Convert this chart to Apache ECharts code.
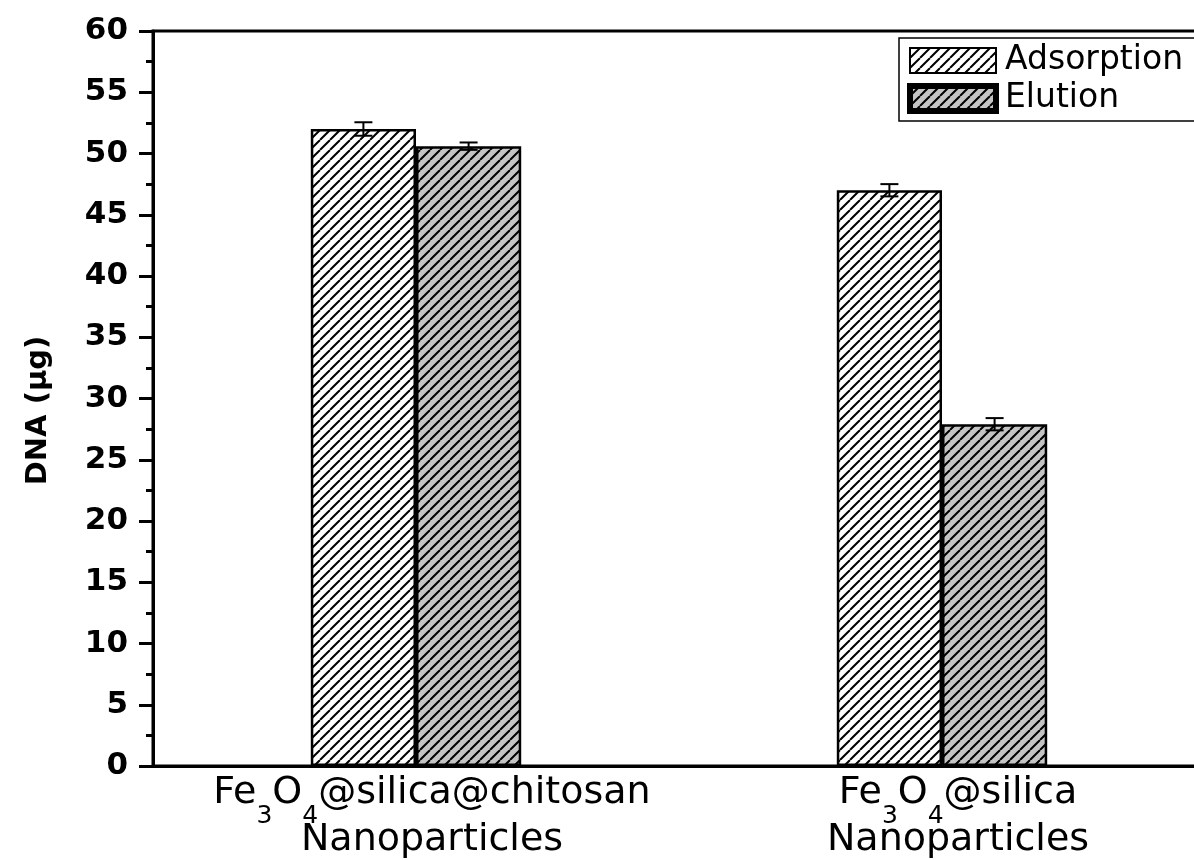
<!DOCTYPE html>
<html>
<head>
<meta charset="utf-8">
<script src="https://cdn.jsdelivr.net/npm/echarts@6/dist/echarts.min.js"></script>
<style>
html,body{margin:0;padding:0;background:#fff;}
#chart{width:1194px;height:860px;}
</style>
</head>
<body>
<div id="chart"></div>
<script>
// ---- data ----
const categories = ['Fe3O4@silica@chitosan\nNanoparticles', 'Fe3O4@silica\nNanoparticles'];
const seriesNames = ['Adsorption', 'Elution'];
const adsorption = [52.0, 47.0];
const adsorptionErr = [0.55, 0.5];
const elution = [50.6, 27.9];
const elutionErr = [0.3, 0.5];
const yTicks = [0, 60, 5];

// ---- hatch patterns ----
function hatch(bg) {
  const w = 10, h = 10;
  const c = document.createElement('canvas');
  c.width = w; c.height = h;
  const ctx = c.getContext('2d');
  ctx.fillStyle = bg; ctx.fillRect(0, 0, w, h);
  ctx.strokeStyle = '#000'; ctx.lineWidth = 2;
  ctx.beginPath();
  [-w, 0, w].forEach(function (dx) { ctx.moveTo(dx, h); ctx.lineTo(dx + w, 0); });
  ctx.stroke();
  return c;
}
const patWhite = { image: hatch('#ffffff'), repeat: 'repeat' };
const patGray = { image: hatch('#c4c4c4'), repeat: 'repeat' };

function fmtLabel(v) {
  const lines = v.split('\n');
  const l1 = lines[0].replace('Fe3O4', 'Fe\u00003\u0000O\u00004\u0000');
  const parts = l1.split('\u0000').filter(function (s) { return s.length; });
  let out = '';
  parts.forEach(function (p) {
    if (p === '3' || p === '4') out += '{s|' + p + '}';
    else out += '{m|' + p + '}';
  });
  return out + '\n{n|' + lines[1] + '}';
}

function errSeries(name, vals, errs, side) {
  return {
    name: name,
    type: 'custom',
    z: 5,
    data: vals.map(function (v, i) { return [i, v, errs[i]]; }),
    encode: { x: 0, y: 1 },
    renderItem: function (params, api) {
      const band = api.size([1, 0])[0];
      const i = api.value(0), v = api.value(1), e = api.value(2);
      const top = api.coord([i, v + e]);
      const bot = api.coord([i, v - e]);
      const x = top[0] + side * band * 0.1;
      const cap = 9;
      const st = { stroke: '#000', lineWidth: 2 };
      return {
        type: 'group',
        children: [
          { type: 'line', shape: { x1: x, y1: top[1], x2: x, y2: bot[1] }, style: st },
          { type: 'line', shape: { x1: x - cap, y1: top[1], x2: x + cap, y2: top[1] }, style: st },
          { type: 'line', shape: { x1: x - cap, y1: bot[1], x2: x + cap, y2: bot[1] }, style: st }
        ]
      };
    }
  };
}

const chart = echarts.init(document.getElementById('chart'), null, { renderer: 'canvas' });
chart.setOption({
  animation: false,
  backgroundColor: '#fff',
  grid: {
    left: 153, top: 31, width: 1052, height: 735,
    outerBoundsMode: 'none', containLabel: false,
    show: true, borderColor: '#000', borderWidth: 3
  },
  legend: {
    data: [
      { name: seriesNames[0] },
      { name: seriesNames[1], itemStyle: { borderWidth: 6, borderColor: '#000' } }
    ],
    icon: 'rect',
    orient: 'vertical',
    left: 899, top: 38,
    itemWidth: 86, itemHeight: 25,
    itemGap: 5,
    padding: [6, 40, 6, 8],
    backgroundColor: '#fff',
    borderColor: '#000', borderWidth: 1.5,
    textStyle: { fontFamily: 'DejaVu Sans', fontSize: 33, color: '#000', padding: [0, 0, 0, 4] }
  },
  xAxis: {
    type: 'category',
    data: categories,
    axisLine: { lineStyle: { color: '#000', width: 3 } },
    axisTick: { show: false },
    axisLabel: {
      margin: 5,
      padding: [0, 0, 0, 32],
      color: '#000',
      fontFamily: 'DejaVu Sans',
      formatter: fmtLabel,
      rich: {
        m: { fontFamily: 'DejaVu Sans', fontSize: 38, lineHeight: 44, color: '#000' },
        s: { fontFamily: 'DejaVu Sans', fontSize: 25, lineHeight: 25, verticalAlign: 'top', padding: [33, 0, 0, 0], color: '#000' },
        n: { fontFamily: 'DejaVu Sans', fontSize: 38, lineHeight: 50, color: '#000' }
      }
    },
    splitLine: { show: false }
  },
  yAxis: {
    type: 'value',
    min: yTicks[0], max: yTicks[1], interval: yTicks[2],
    name: 'DNA (\u03bcg)',
    nameLocation: 'middle',
    nameGap: 100,
    nameTextStyle: { fontFamily: 'DejaVu Sans', fontWeight: 'bold', fontSize: 29, color: '#000', padding: [0, 24, 0, 0] },
    axisLine: { show: true, lineStyle: { color: '#000', width: 3 } },
    axisTick: { show: true, length: 14, lineStyle: { color: '#000', width: 3 } },
    minorTick: { show: true, splitNumber: 2, length: 7, lineStyle: { color: '#000', width: 3 } },
    axisLabel: { margin: 25, color: '#000', fontFamily: 'DejaVu Sans', fontWeight: 'bold', fontSize: 31 },
    splitLine: { show: false }
  },
  series: [
    {
      name: seriesNames[0], type: 'bar', data: adsorption,
      barGap: '0%', barCategoryGap: '60%',
      itemStyle: { color: patWhite, borderColor: '#000', borderWidth: 2.5 }
    },
    {
      name: seriesNames[1], type: 'bar', data: elution,
      barGap: '0%', barCategoryGap: '60%',
      itemStyle: { color: patGray, borderColor: '#000', borderWidth: 2.5 }
    },
    errSeries('Adsorption error', adsorption, adsorptionErr, -1),
    errSeries('Elution error', elution, elutionErr, 1)
  ]
});
</script>
</body>
</html>
